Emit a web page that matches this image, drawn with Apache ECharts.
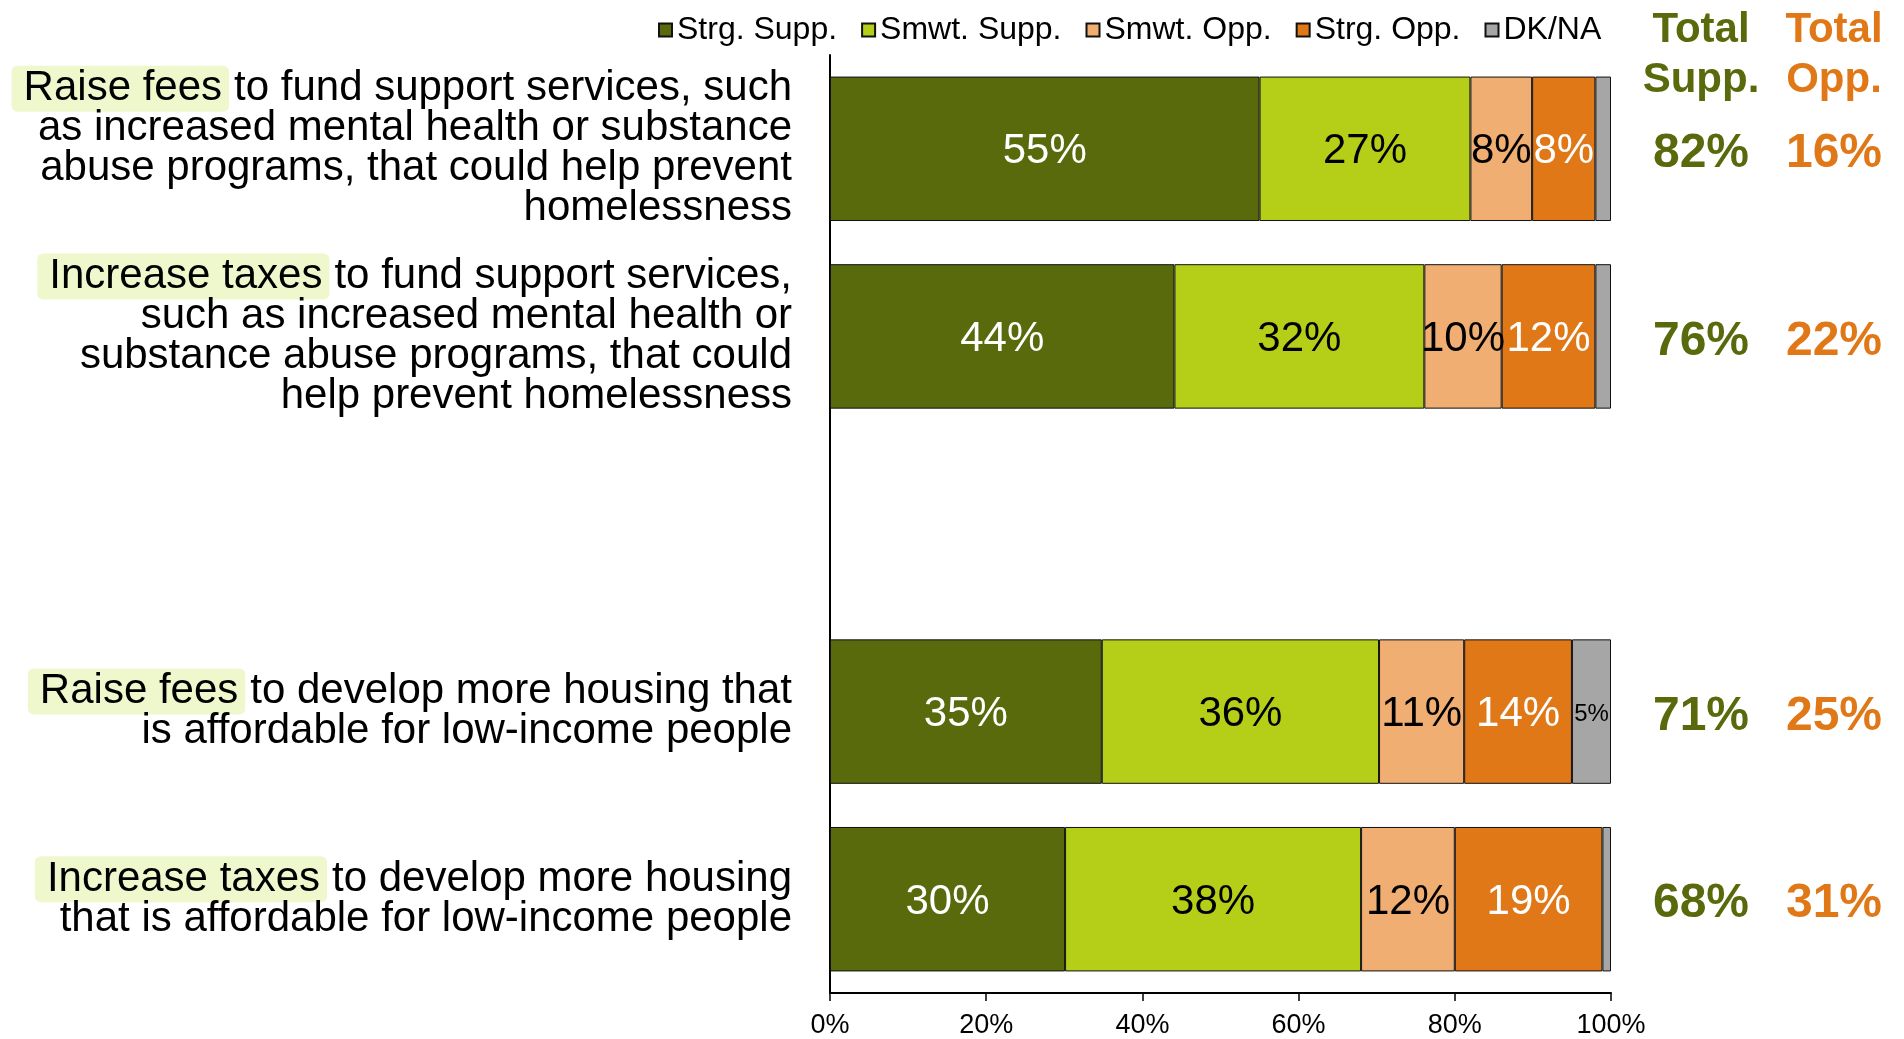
<!DOCTYPE html>
<html><head><meta charset="utf-8">
<script src="https://cdn.jsdelivr.net/npm/echarts@6/dist/echarts.min.js"></script>
<style>html,body{margin:0;padding:0;background:#fff}#c{width:1904px;height:1039px}</style>
</head><body><div id="c"></div>
<script>
// ---- data ----
const highlights = ['Raise fees', 'Increase taxes', '', 'Raise fees', 'Increase taxes'];
const labelRests = [
  'to fund support services, such\nas increased mental health or substance\nabuse programs, that could help prevent\nhomelessness',
  'to fund support services,\nsuch as increased mental health or\nsubstance abuse programs, that could\nhelp prevent homelessness',
  '',
  'to develop more housing that\nis affordable for low-income people',
  'to develop more housing\nthat is affordable for low-income people'
];
const seriesNames = ['Strg. Supp.', 'Smwt. Supp.', 'Smwt. Opp.', 'Strg. Opp.', 'DK/NA'];
const strgSupp = [55, 44.1, null, 34.8, 30.1];
const smwtSupp = [27, 32, null, 35.5, 37.9];
const smwtOpp  = [7.9, 9.9, null, 10.9, 12.0];
const strgOpp  = [8.1, 12, null, 13.8, 18.9];
const dkna     = [2, 2, null, 5, 1.1];
const totalSupp = [82, 76, null, 71, 68];
const totalOpp  = [16, 22, null, 25, 31];
const headerSupp = 'Total\nSupp.';
const headerOpp = 'Total\nOpp.';

// ---- style ----
const FF = "'Liberation Sans', Arial, sans-serif";
const C_SS = '#586a0b', C_MS = '#b5cf18', C_MO = '#f0ae72', C_SO = '#e07818', C_DK = '#a6a6a6';
const categories = highlights.map((h, i) => h ? h + ' ' + labelRests[i].replace(/\n/g, ' ') : ' ');

function mk(name, data, color, textColor, fs) {
  return {
    name, type: 'bar', stack: 'total', data, barWidth: '77%',
    itemStyle: { color, borderColor: '#111', borderWidth: 1 },
    label: {
      show: true, position: 'inside', color: textColor, fontSize: fs, fontFamily: FF, offset: [0, 3],
      formatter: p => (p.value == null || p.value < 4) ? '' : Math.round(p.value) + '%'
    },
    emphasis: { disabled: true }
  };
}

const chart = echarts.init(document.getElementById('c'));
chart.setOption({
  animation: false,
  backgroundColor: '#fff',
  legend: {
    data: seriesNames, top: 9, left: 653, icon: 'rect',
    itemWidth: 13, itemHeight: 13, itemGap: 24, selectedMode: false,
    textStyle: { fontSize: 32, color: '#000', fontFamily: FF }
  },
  grid: { left: 830, right: 293, top: 55, bottom: 45, containLabel: false },
  xAxis: {
    type: 'value', min: 0, max: 100, interval: 20,
    axisLine: { show: true, lineStyle: { color: '#000', width: 2 } },
    axisTick: { show: true, length: 8, lineStyle: { color: '#000', width: 1.5 } },
    splitLine: { show: false },
    axisLabel: { formatter: '{value}%', fontSize: 27, color: '#000', fontFamily: FF, margin: 19 }
  },
  yAxis: [{
    type: 'category', data: categories, inverse: true,
    axisLine: { show: true, lineStyle: { color: '#000', width: 2 } },
    axisTick: { show: false },
    axisLabel: {
      interval: 0, margin: 38, fontSize: 42, lineHeight: 40, color: '#000', fontFamily: FF, align: 'right',
      formatter: (v, i) => highlights[i] ? '{h|' + highlights[i] + '}{sp| }' + labelRests[i] : '',
      rich: {
        h: { backgroundColor: '#eff7cd', borderRadius: 6, padding: [2, 7, 2, 12], fontSize: 42, lineHeight: 40, color: '#000', fontFamily: FF },
        sp: { fontSize: 18, lineHeight: 40, fontFamily: FF }
      }
    }
  }, {
    type: 'category', data: categories, inverse: true, position: 'right',
    axisLine: { show: false }, axisTick: { show: false },
    axisLabel: {
      interval: 0, margin: 30, align: 'left',
      formatter: (v, i) => totalSupp[i] == null ? '' : '{s|' + totalSupp[i] + '%}{o|' + totalOpp[i] + '%}',
      rich: {
        s: { width: 120, align: 'center', fontSize: 48, fontWeight: 'bold', color: C_SS, fontFamily: FF, padding: [10, 0, 0, 0] },
        o: { width: 146, align: 'center', fontSize: 48, fontWeight: 'bold', color: C_SO, fontFamily: FF, padding: [10, 0, 0, 0] }
      }
    }
  }],
  graphic: [
    { type: 'text', x: 1701, y: 5, silent: true,
      style: { text: headerSupp, align: 'center', textAlign: 'center', verticalAlign: 'top', textVerticalAlign: 'top',
        fill: C_SS, fontSize: 42, fontWeight: 'bold', fontFamily: FF, lineHeight: 50 } },
    { type: 'text', x: 1834, y: 5, silent: true,
      style: { text: headerOpp, align: 'center', textAlign: 'center', verticalAlign: 'top', textVerticalAlign: 'top',
        fill: C_SO, fontSize: 42, fontWeight: 'bold', fontFamily: FF, lineHeight: 50 } }
  ],
  series: [
    mk(seriesNames[0], strgSupp, C_SS, '#fff', 42),
    mk(seriesNames[1], smwtSupp, C_MS, '#000', 42),
    mk(seriesNames[2], smwtOpp, C_MO, '#000', 42),
    mk(seriesNames[3], strgOpp, C_SO, '#fff', 42),
    mk(seriesNames[4], dkna, C_DK, '#000', 24)
  ]
});
</script></body></html>
